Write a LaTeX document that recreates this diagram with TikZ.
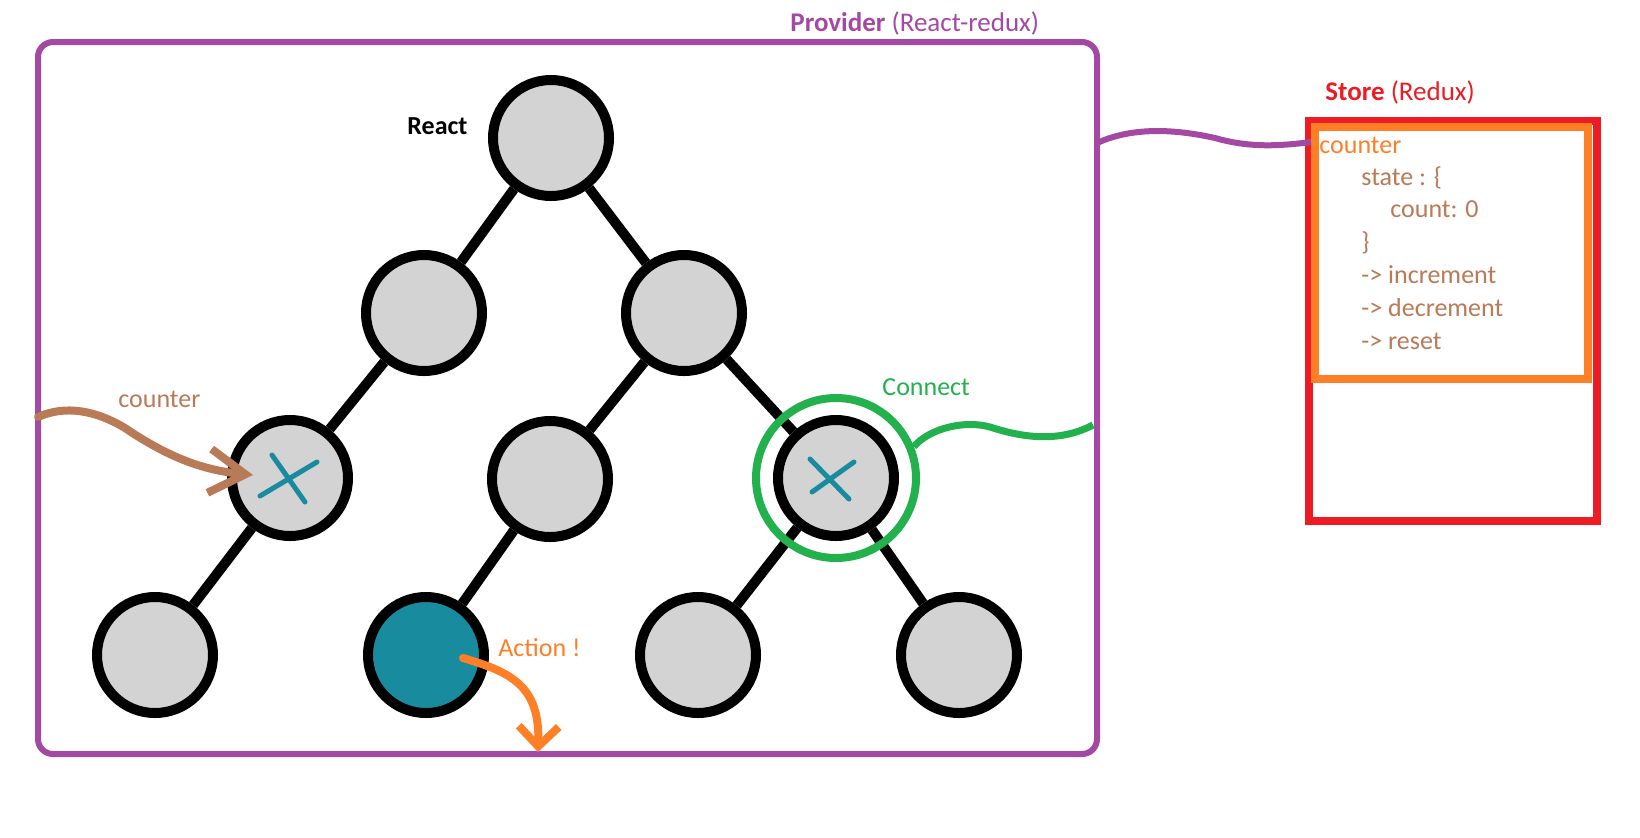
\documentclass[tikz,border=0pt]{standalone}
\usepackage{fontspec}
\setmainfont{Carlito}
\usetikzlibrary{arrows.meta,calc,backgrounds}
\definecolor{cpurple}{HTML}{A349A4}
\definecolor{cbrown}{HTML}{B97A57}
\definecolor{corange}{HTML}{FF7F27}
\definecolor{cgreen}{HTML}{22B14C}
\definecolor{cred}{HTML}{ED1C24}
\definecolor{cteal}{HTML}{188B9F}
\definecolor{treegray}{HTML}{D3D3D3}
\begin{document}
\begin{tikzpicture}[x=0.5pt,y=-0.5pt,
  font=\fontsize{13}{15}\selectfont,
  treenode/.style={circle,draw=black,line width=5pt,fill=treegray,minimum size=58pt,inner sep=0pt},
  edge/.style={draw=black,line width=5pt},
  lbl/.style={inner sep=0pt,anchor=base west},
  title/.style={lbl,font=\fontsize{13.5}{16}\selectfont},
  cross/.style={draw=cteal,line width=2.5pt,line cap=round},
  pline/.style={draw=cpurple,line width=3pt},
  gline/.style={draw=cgreen,line width=3.5pt},
  barrow/.style={draw=cbrown,line width=4pt,line cap=round,-{Straight Barb[length=18pt,width=22pt]}},
  oarrow/.style={draw=corange,line width=4pt,line cap=round,-{Straight Barb[length=10pt,width=20pt]}}]
\useasboundingbox (0,0) rectangle (1640,837);

% tree nodes
\node[treenode] (r) at (551,138) {};
\node[treenode] (a) at (424,313) {};
\node[treenode] (b) at (684,313) {};
\node[treenode] (c) at (290,478) {};
\node[treenode] (d) at (550,479) {};
\node[treenode] (e) at (836,478) {};
\node[treenode] (f) at (155,655) {};
\node[treenode,fill=cteal] (g) at (426,655) {};
\node[treenode] (h) at (698,655) {};
\node[treenode] (i) at (959,655) {};

\begin{scope}[on background layer]
  \fill[white] (0,0) rectangle (1640,837);
  \draw[edge] (r)--(a) (r)--(b) (a)--(c) (b)--(d) (b)--(e) (c)--(f) (d)--(g) (e)--(h) (e)--(i);
\end{scope}

% crosses
\draw[cross] ($(c)+(-18,-23)$) -- ($(c)+(15,24)$) ($(c)+(-30,18)$) -- ($(c)+(27,-16)$);
\draw[cross] ($(e)+(-26,-19)$) -- ($(e)+(13,21)$) ($(e)+(-24,14)$) -- ($(e)+(18,-16)$);

% provider box
\node[draw=cpurple,line width=3pt,rounded corners=7.5pt,minimum width=529.5pt,minimum height=356pt,inner sep=0pt] (prov) at (567.5,398) {};

% store boxes
\node[draw=cred,line width=4pt,minimum width=144pt,minimum height=200pt,inner sep=0pt] (store) at (1453,321) {};
\node[draw=corange,line width=4pt,minimum width=136.5pt,minimum height=126pt,inner sep=0pt] (counterbox) at (1451.5,253) {};

% green ring and wave
\node[circle,draw=cgreen,line width=4pt,minimum size=80pt,inner sep=0pt] (ring) at (e) {};
\coordinate (wend) at (1093,425);
\draw[gline] (ring.22) .. controls (930,428) and (965,420) .. (990,427) .. controls (1015,435) and (1055,445) .. (wend);

% purple wave
\coordinate (pstart) at (1097,143);
\coordinate (pend) at (1311,142);
\draw[pline] (pstart) .. controls (1130,128) and (1170,128) .. (1215,138) .. controls (1250,148) and (1280,146) .. (pend);

% brown arrow
\coordinate (bstart) at (38,417);
\coordinate (bend) at (253,475);
\draw[barrow] (bstart) .. controls (65,405) and (95,410) .. (125,428) .. controls (165,455) and (200,470) .. (bend);

% orange arrow
\coordinate (ostart) at ($(g)+(37,3)$);
\coordinate (oend) at (538,752);
\draw[oarrow] (ostart) .. controls (510,672) and (540,685) .. (oend);

% labels
\node[title,text=cpurple] (provlbl) at (790,31) {\textbf{Provider} (React-redux)};
\node[title,text=cred] (storelbl) at (1325,100) {\textbf{Store} (Redux)};
\node[lbl,text=black] (reactlbl) at (407,134) {\textbf{React}};
\node[lbl,text=cbrown] (counterlbl) at (118,407) {counter};
\node[lbl,text=cgreen] (connectlbl) at (882,395) {Connect};
\node[lbl,text=corange] (actionlbl) at (498,656) {Action !};

% store content
\node[lbl,text=corange] (s1) at (1319,153) {counter};
\node[lbl,text=cbrown] (s2) at (1361,185) {state : \{};
\node[lbl,text=cbrown] (s3) at (1390,217) {count: 0};
\node[lbl,text=cbrown] (s4) at (1361,250) {\}};
\node[lbl,text=cbrown] (s5) at (1361,283) {-> increment};
\node[lbl,text=cbrown] (s6) at (1361,316) {-> decrement};
\node[lbl,text=cbrown] (s7) at (1361,349) {-> reset};
\end{tikzpicture}
\end{document}
